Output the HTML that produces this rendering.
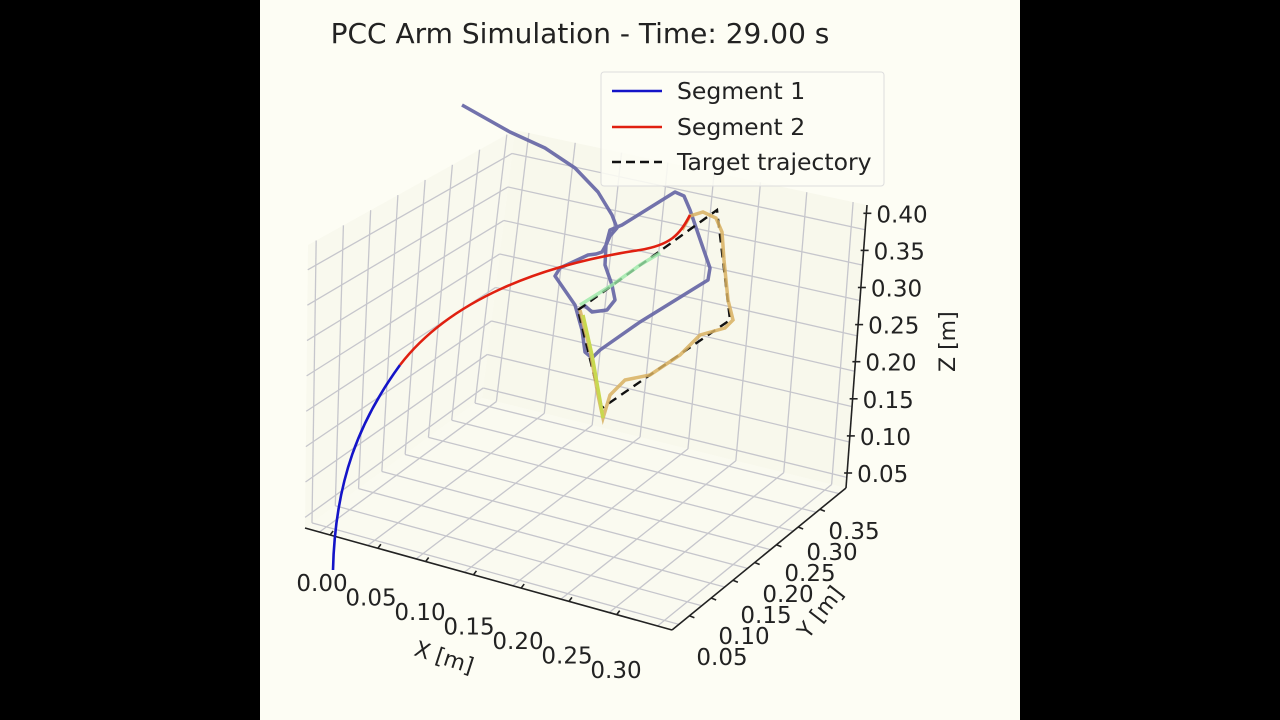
<!DOCTYPE html>
<html><head><meta charset="utf-8"><style>
html,body{margin:0;padding:0;background:#000;}
#w{position:relative;width:1280px;height:720px;background:#000;overflow:hidden}
svg{position:absolute;left:0;top:0}
text{font-family:"DejaVu Sans","Liberation Sans",sans-serif;fill:#222}
</style></head><body><div id="w">
<svg id="s" width="1280" height="720" viewBox="0 0 1280 720">
<rect x="260" y="0" width="760" height="720" fill="#fdfdf4"/>
<g id="panes"></g>
<g id="grid" stroke="#c6c6cc" stroke-width="1.3" fill="none"></g>
<g id="axes" stroke="#222" stroke-width="1.6" fill="none"></g>
<path d="M462,105 L510,132 L545,148 L575,168 L598,192 L612,215 L617,228 L610,236 L606,245 L602,252 L596,254 L588,255 L560,268 L555,276 L575,305 L582,330 L585,352 L592,358 L600,350 L640,322 L695,288 L708,280 L710,268 L702,245 L690,210 L684,196 L675,192 L622,225 L610,230 L606,245 L605,265 L612,285 L615,300 L607,310 L592,312 L584,305" fill="none" stroke="#6a6aa8" stroke-width="3.5" stroke-linejoin="round" opacity="0.95"/>
<path d="M578,310 L717,210 L730,320 L602,408 L578,310" fill="none" stroke="#111" stroke-width="2.4" stroke-dasharray="9,6"/>
<path d="M580,305 L612,285 L640,265 L660,253" fill="none" stroke="#9ae8a8" stroke-width="3.5" opacity="0.8"/>
<path d="M580,310 L590,350 L598,395 L603,418 L610,395 L625,380 L650,375 L680,355 L700,335 L725,328 L733,320 L728,300 L724,260 L722,232 L716,218 L703,212 L690,216 L682,230" fill="none" stroke="#d8b060" stroke-width="3.5" opacity="0.85"/>
<path d="M583,315 L592,355 L600,400 L603,418" fill="none" stroke="#c8d850" stroke-width="3.5"/>
<path d="M333,570 C335,480 360,420 400,365" fill="none" stroke="#1414c8" stroke-width="2.6"/>
<path d="M400,365 C450,300 540,265 640,250 C670,245 680,235 690,215" fill="none" stroke="#e02010" stroke-width="2.6"/>
<text x="580" y="43" font-size="28" text-anchor="middle">PCC Arm Simulation - Time: 29.00 s</text>
<rect x="601" y="72" width="283" height="114" rx="3" fill="#fdfdf4" fill-opacity="0.85" stroke="#ddd"/>
<line x1="612" y1="91" x2="662" y2="91" stroke="#1414c8" stroke-width="2.5"/>
<line x1="612" y1="127" x2="662" y2="127" stroke="#e02010" stroke-width="2.5"/>
<line x1="612" y1="162" x2="662" y2="162" stroke="#111" stroke-width="2.5" stroke-dasharray="9,5"/>
<text x="677" y="99" font-size="23.5">Segment 1</text>
<text x="677" y="135" font-size="23.5">Segment 2</text>
<text x="677" y="170" font-size="23.5">Target trajectory</text>
<g id="labels" font-size="23"></g>
<text x="0" y="0" font-size="22" transform="translate(413,655) rotate(18)">X [m]</text>
<text x="0" y="0" font-size="22" transform="translate(808,640) rotate(-52)">Y [m]</text>
<text x="0" y="0" font-size="22" transform="translate(955,372) rotate(-90)">Z [m]</text>
</svg>
<script>
var NS="http://www.w3.org/2000/svg";
function L(g,a,b,c){var l=document.createElementNS(NS,"line");l.setAttribute("x1",a[0]);l.setAttribute("y1",a[1]);l.setAttribute("x2",b[0]);l.setAttribute("y2",b[1]);if(c)l.setAttribute("stroke",c);document.getElementById(g).appendChild(l);}
function P(g,pts,f){var p=document.createElementNS(NS,"polygon");p.setAttribute("points",pts.map(function(q){return q.join(",")}).join(" "));p.setAttribute("fill",f);p.setAttribute("stroke","none");document.getElementById(g).appendChild(p);}
function lerp(a,b,t){return [a[0]+(b[0]-a[0])*t,a[1]+(b[1]-a[1])*t];}
function T(x,y,s,anc){var t=document.createElementNS(NS,"text");t.setAttribute("x",x);t.setAttribute("y",y);if(anc)t.setAttribute("text-anchor",anc);t.textContent=s;document.getElementById("labels").appendChild(t);}
var B=[305,528],A=[672,630],C=[846,488],D=[482,398];
var Bt=[308,245],Dt=[515,130],Ct=[867,205];
P("panes",[B,D,Dt,Bt],"#f9f9ee");
P("panes",[D,C,Ct,Dt],"#f8f8ec");
P("panes",[B,A,C,D],"#fafaf0");
var n=7,m=8;
for(var i=0;i<=n;i++){var t=(i+0.3)/(n+0.6);L("grid",lerp(B,A,t),lerp(D,C,t));}
for(var i=0;i<=n;i++){var t=(i+0.3)/(n+0.6);L("grid",lerp(B,D,t),lerp(A,C,t));}
for(var i=0;i<=n;i++){var t=(i+0.3)/(n+0.6);L("grid",lerp(B,D,t),lerp(Bt,Dt,t));}
for(var j=0;j<m;j++){var t=(j+0.3)/(m);L("grid",lerp(B,Bt,t),lerp(D,Dt,t));}
for(var i=0;i<=n;i++){var t=(i+0.3)/(n+0.6);L("grid",lerp(D,C,t),lerp(Dt,Ct,t));}
for(var j=0;j<m;j++){var t=(j+0.3)/(m);L("grid",lerp(D,Dt,t),lerp(C,Ct,t));}
L("axes",B,A);L("axes",A,C);L("axes",C,Ct);
var xl=["0.00","0.05","0.10","0.15","0.20","0.25","0.30"];
for(var i=0;i<7;i++){var t=(i*0.95+0.5)/7.3;var p=lerp(B,A,t);L("axes",p,[p[0]+3,p[1]-4]);T(322+i*49,591+i*14.5,xl[i],"middle");}
var yl=["0.05","0.10","0.15","0.20","0.25","0.30","0.35"];
for(var i=0;i<7;i++){var t=(i+0.8)/8.0;var p=lerp(A,C,t);L("axes",p,[p[0]+5,p[1]+2]);T(722+i*22,665-i*21,yl[i],"middle");}
var zl=["0.05","0.10","0.15","0.20","0.25","0.30","0.35","0.40"];
for(var i=0;i<8;i++){var y=473-i*37.1;var x=846+(488-y)/(488-205)*21;L("axes",[x-3,y],[x+5,y]);T(x+10,y+9,zl[i]);}
</script>
</div></body></html>
